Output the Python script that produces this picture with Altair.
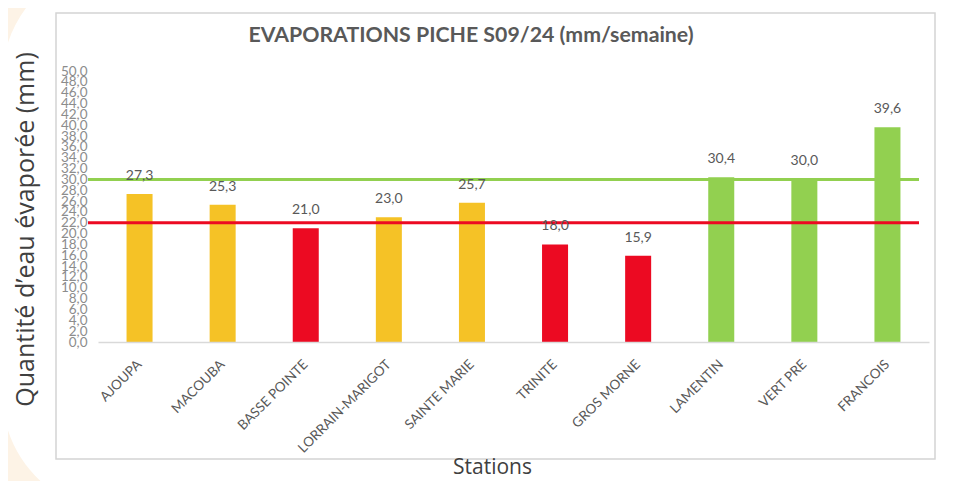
import altair as alt
import pandas as pd

# ---- data ----
stations = ["AJOUPA", "MACOUBA", "BASSE POINTE", "LORRAIN-MARIGOT", "SAINTE MARIE",
            "TRINITE", "GROS MORNE", "LAMENTIN", "VERT PRE", "FRANCOIS"]
evaporation = [27.3, 25.3, 21.0, 23.0, 25.7, 18.0, 15.9, 30.4, 30.0, 39.6]
seuil_bas = 22.0
seuil_haut = 30.0
y_ticks = list(range(0, 51, 2))
titre = "EVAPORATIONS PICHE S09/24 (mm/semaine)"
titre_y = "Quantité d’eau évaporée (mm)"
titre_x = "Stations"

def classe(v):
    if v < seuil_bas:
        return "bas"
    if v < seuil_haut:
        return "moyen"
    return "haut"

df = pd.DataFrame({
    "station": stations,
    "valeur": evaporation,
    "classe": [classe(v) for v in evaporation],
    "etiquette": [f"{v:.1f}".replace(".", ",") for v in evaporation],
})
seuils = pd.DataFrame({"seuil": [seuil_haut, seuil_bas], "nom": ["haut", "bas"]})
one = pd.DataFrame({"a": [0]})

RED = "#EC0A22"
YELLOW = "#F5C226"
GREEN = "#92D050"
PEACH = "#FDF3E6"

W, H = 831, 271

# decorative background: white rounded panel over peach page, and framed chart box
panel = alt.Chart(one).mark_rect(color="white", cornerRadius=120).encode(
    x=alt.value(-96), x2=alt.value(1100), y=alt.value(-111), y2=alt.value(442)
)
frame = alt.Chart(one).mark_rect(fill="white", stroke="#D4D4D4", strokeWidth=1.5).encode(
    x=alt.value(-42), x2=alt.value(837), y=alt.value(-58), y2=alt.value(388)
)

x_axis = alt.Axis(
    title=titre_x, labelAngle=-45, labelAlign="right", labelBaseline="middle",
    labelPadding=20, labelFont="Lato", labelFontSize=13.5, labelColor="#595959",
    ticks=False, tickSize=0, domainColor="#D9D9D9", domainWidth=1.5,
    titleFont="Open Sans", titleFontSize=21, titleFontWeight="normal", titleColor="#404040",
    titleX=394, titleY=125, titleAlign="center", titleBaseline="middle",
    labelOverlap=False, zindex=1,
)
y_axis = alt.Axis(
    title=titre_y, values=y_ticks, grid=False, domain=False, ticks=False, tickSize=0,
    labelPadding=11, labelFont="Lato", labelFontSize=13.5, labelColor="#8C8C8C",
    labelOverlap=False, labelExpr="replace(format(datum.value, '.1f'), '.', ',')",
    titleFont="Open Sans", titleFontSize=25, titleFontWeight="normal", titleColor="#404040",
    titleX=-73, titleY=158, titleAlign="center", titleBaseline="middle", titleAngle=-90,
    zindex=1,
)
y_scale = alt.Scale(domain=[0, 50], nice=False, zero=True)
x_scale = alt.Scale(paddingInner=0.687, paddingOuter=0.3435)

bars = alt.Chart(df).mark_bar().encode(
    x=alt.X("station:N", sort=stations, scale=x_scale, axis=x_axis),
    y=alt.Y("valeur:Q", scale=y_scale, axis=y_axis),
    color=alt.Color("classe:N", scale=alt.Scale(domain=["bas", "moyen", "haut"],
                                                range=[RED, YELLOW, GREEN]), legend=None),
)

labels = alt.Chart(df).mark_text(
    font="Lato", fontSize=14, color="#595959", baseline="bottom", dy=-11
).encode(
    x=alt.X("station:N", sort=stations, scale=x_scale, axis=x_axis),
    y=alt.Y("valeur:Q", scale=y_scale, axis=y_axis),
    text="etiquette:N",
)

rules = alt.Chart(seuils).mark_rule(strokeWidth=3).encode(
    y=alt.Y("seuil:Q", scale=y_scale, axis=y_axis),
    x=alt.value(-10),
    x2=alt.value(821),
    color=alt.Color("nom:N", scale=alt.Scale(domain=["haut", "bas"], range=[GREEN, RED]), legend=None),
)

title_mark = alt.Chart(one).mark_text(
    text=titre, font="Lato", fontSize=21.3, fontWeight="bold", color="#595959",
    align="center", baseline="middle"
).encode(x=alt.value(373), y=alt.value(-35))

chart = alt.layer(panel, frame, bars, rules, labels, title_mark).resolve_scale(
    color="independent"
).properties(
    width=W, height=H,
    padding={"left": 90, "top": 63, "right": 24, "bottom": 139},
    autosize=alt.AutoSizeParams(type="none"),
    background=PEACH,
).configure_view(stroke=None).configure_axis(labelOverlap=False)

chart.save("out.html", embed_options={"renderer": "svg", "actions": False})
